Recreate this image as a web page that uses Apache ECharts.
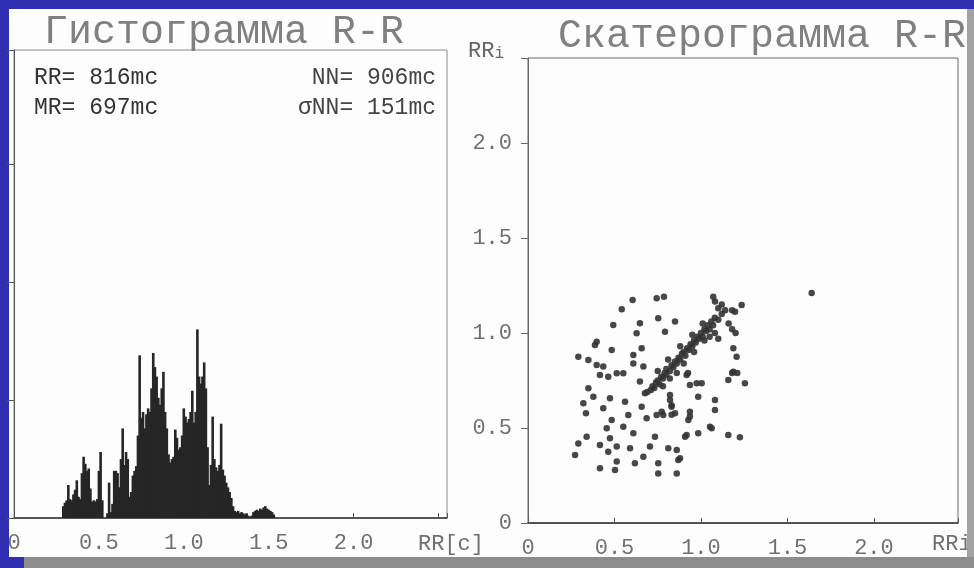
<!DOCTYPE html>
<html>
<head>
<meta charset="utf-8">
<script src="https://cdn.jsdelivr.net/npm/echarts@6/dist/echarts.min.js"></script>
<style>
  html, body { margin: 0; padding: 0; background: #2f2fb2; }
  #paper { position: absolute; left: 9px; top: 9px; width: 958px; height: 548px; background: #fdfdfd; }
  #chart { position: absolute; left: 0; top: 0; width: 974px; height: 568px; }
  #edgeRight { position: absolute; left: 967px; top: 9px; width: 7px; height: 559px; background: #a2a2a2; }
  #edgeBottom { position: absolute; left: 24px; top: 557px; width: 950px; height: 11px; background: #8c8c8c; }
</style>
</head>
<body>
<div id="paper"></div>
<div id="chart"></div>
<div id="edgeRight"></div>
<div id="edgeBottom"></div>
<script>
// гистограмма: бины по 0.01 c начиная с 0.29 c
const histStart = 0.29;
const histStep = 0.01;
const histCounts = [
  1.0, 1.3, 1.5, 2.8, 1.6, 1.5, 2.0, 2.4, 3.2, 1.8,
  1.6, 3.8, 5.2, 4.6, 4.0, 4.2, 2.5, 1.4, 1.5, 1.4,
  1.6, 4.0, 5.6, 1.5, 0.0, 0.0, 0.4, 3.0, 0.5, 1.2,
  4.0, 4.0, 3.8, 2.6, 5.0, 7.6, 4.5, 5.6, 5.0, 1.8,
  2.2, 3.6, 4.0, 4.4, 7.0, 13.8, 8.5, 9.0, 7.6, 8.8,
  9.3, 9.0, 11.0, 14.0, 12.8, 12.0, 10.2, 9.6, 11.0, 12.4,
  9.0, 7.6, 5.4, 4.7, 5.0, 5.2, 7.5, 6.8, 5.8, 6.0,
  7.0, 9.3, 8.6, 8.1, 8.4, 9.0, 10.8, 8.1, 9.0, 16.0,
  12.0, 11.4, 12.0, 13.2, 11.0, 6.0, 2.8, 4.5, 8.6, 5.0,
  4.3, 4.0, 4.5, 8.0, 4.1, 3.6, 3.0, 2.6, 2.2, 1.7,
  1.0, 0.6, 0.5, 0.6, 0.4, 0.5, 0.4, 0.3, 0.4, 0.2,
  0.1, 0.2, 0.5, 0.6, 0.7, 0.6, 0.8, 0.7, 0.9, 1.0,
  0.8, 0.7, 0.6, 0.5, 0.3
];

// скатерограмма: [RRi, RRi+1]
const rrPairs = [
  [0.605, 1.174], [0.542, 1.125], [0.744, 1.183], [0.786, 1.19], [1.071, 1.191],
  [1.081, 1.165], [1.235, 1.147], [1.197, 1.112], [0.493, 1.042], [0.647, 1.051],
  [0.85, 1.06], [0.753, 1.077], [0.628, 0.998], [0.792, 1.007], [0.657, 0.919],
  [0.484, 0.911], [0.387, 0.937], [0.397, 0.954], [0.291, 0.875], [0.349, 0.858],
  [0.397, 0.832], [0.435, 0.823], [0.416, 0.779], [0.464, 0.77], [0.513, 0.788],
  [0.551, 0.788], [0.609, 0.84], [0.647, 0.744], [0.349, 0.709], [0.378, 0.665],
  [0.32, 0.63], [0.335, 0.577], [0.435, 0.604], [0.474, 0.656], [0.561, 0.638],
  [0.484, 0.542], [0.58, 0.568], [0.657, 0.612], [0.686, 0.551], [0.744, 0.568],
  [0.782, 0.568], [0.821, 0.647], [0.83, 0.612], [0.85, 0.577], [0.936, 0.586],
  [0.927, 0.542], [0.984, 0.665], [0.936, 0.726], [1.081, 0.647], [1.081, 0.595],
  [1.052, 0.507], [0.984, 0.472], [0.917, 0.463], [1.158, 0.463], [1.225, 0.451],
  [1.158, 0.753], [1.254, 0.735], [1.187, 0.796], [1.206, 0.875], [1.187, 0.919],
  [0.339, 0.454], [0.291, 0.419], [0.272, 0.358], [0.416, 0.41], [0.474, 0.446],
  [0.455, 0.498], [0.551, 0.507], [0.609, 0.472], [0.513, 0.402], [0.464, 0.375],
  [0.59, 0.393], [0.667, 0.349], [0.705, 0.402], [0.734, 0.454], [0.811, 0.393],
  [0.879, 0.341], [0.513, 0.323], [0.416, 0.288], [0.503, 0.279], [0.618, 0.314],
  [0.753, 0.314], [0.753, 0.261], [0.86, 0.261], [0.869, 0.332], [0.773, 0.586],
  [0.821, 0.674], [0.676, 0.683], [0.917, 0.779], [0.975, 0.735], [0.936, 0.56],
  [0.667, 0.823], [0.609, 0.884], [1.004, 0.735], [0.83, 0.62], [0.83, 0.57],
  [0.908, 0.454], [1.062, 0.498], [0.86, 0.384], [1.18, 1.12], [1.10, 0.97],
  [1.18, 0.79], [1.21, 0.79], [0.925, 0.79], [1.64, 1.21],
  [0.69, 0.69], [0.71, 0.70], [0.72, 0.72], [0.73, 0.71], [0.74, 0.74],
  [0.75, 0.75], [0.76, 0.73], [0.77, 0.77], [0.78, 0.76], [0.79, 0.79],
  [0.80, 0.78], [0.80, 0.81], [0.82, 0.80], [0.83, 0.83], [0.84, 0.82],
  [0.85, 0.85], [0.86, 0.84], [0.87, 0.87], [0.88, 0.86], [0.89, 0.89],
  [0.90, 0.90], [0.91, 0.88], [0.92, 0.92], [0.93, 0.91], [0.94, 0.94],
  [0.95, 0.93], [0.96, 0.96], [0.97, 0.95], [0.98, 0.98], [0.99, 0.97],
  [1.00, 1.00], [1.01, 0.98], [1.02, 1.02], [1.03, 1.01], [1.04, 1.04],
  [1.05, 1.02], [1.06, 1.06], [1.07, 1.04], [1.08, 1.08], [1.10, 1.07],
  [1.12, 1.10], [1.14, 1.12], [1.16, 1.05], [1.18, 1.02], [1.20, 1.00],
  [0.78, 0.72], [0.82, 0.76], [0.86, 0.79], [0.90, 0.84], [0.96, 0.90],
  [1.02, 0.96], [1.05, 0.98], [1.08, 1.00], [0.75, 0.80], [0.81, 0.86],
  [0.88, 0.93], [0.95, 0.99], [1.01, 1.05], [1.10, 1.13], [1.12, 1.15]
];

const histTitle = 'Гистограмма R-R';
const scatTitle = 'Скатерограмма R-R';
const statsLeft = ['RR= 816mc', 'MR= 697mc'];
const statsRight = ['NN= 906mc', 'σNN= 151mc'];
const histXName = 'RR[c]';
const scatXName = 'RRi+1';

const histData = histCounts.map((c, i) => [+(histStart + i * histStep).toFixed(2), c]);

const mono = '"Liberation Mono", "DejaVu Sans Mono", monospace';
// подписи только для 0, 0.5 ... 2.0
const tickFmt = v => {
  const k = Math.round(v * 10);
  if (Math.abs(v * 10 - k) > 1e-6 || k % 5 !== 0 || k > 20) return '';
  return k === 0 ? '0' : v.toFixed(1);
};

const myChart = echarts.init(document.getElementById('chart'));
const option = {
  animation: false,
  grid: [
    { left: 14, top: 50, width: 433, height: 468, show: true, borderColor: '#8a8a8a', borderWidth: 1 },
    { left: 528, top: 58, width: 430, height: 465, show: true, borderColor: '#6a6a6a', borderWidth: 1 }
  ],
  xAxis: [
    {
      gridIndex: 0, type: 'value', min: 0, max: 2.55, interval: 0.5,
      axisLine: { lineStyle: { color: '#333', width: 1.5 } },
      axisTick: { inside: true, length: 5, lineStyle: { color: '#555' } },
      splitLine: { show: false },
      axisLabel: { margin: 14, color: '#707070', fontFamily: mono, fontSize: 22, formatter: tickFmt }
    },
    {
      gridIndex: 1, type: 'value', min: 0, max: 2.486, interval: 0.5,
      axisLine: { lineStyle: { color: '#333', width: 1.5 } },
      axisTick: { inside: true, length: 5, lineStyle: { color: '#555' } },
      splitLine: { show: false },
      axisLabel: { margin: 14, color: '#707070', fontFamily: mono, fontSize: 22, formatter: tickFmt }
    }
  ],
  yAxis: [
    {
      gridIndex: 0, type: 'value', min: 0, max: 39.7, interval: 10,
      axisLine: { show: true, lineStyle: { color: '#555' } },
      axisTick: { show: true, length: 7, lineStyle: { color: '#555' } },
      axisLabel: { show: false },
      splitLine: { show: false }
    },
    {
      gridIndex: 1, type: 'value', min: 0, max: 2.447, interval: 0.5,
      axisLine: { show: true, lineStyle: { color: '#666' } },
      axisTick: { show: true, length: 7, lineStyle: { color: '#666' } },
      axisLabel: { margin: 16, color: '#707070', fontFamily: mono, fontSize: 22, formatter: tickFmt },
      splitLine: { show: false }
    }
  ],
  series: [
    {
      type: 'bar', xAxisIndex: 0, yAxisIndex: 0,
      data: histData, barWidth: 2.6,
      itemStyle: { color: '#262626' }
    },
    {
      type: 'scatter', xAxisIndex: 1, yAxisIndex: 1,
      data: rrPairs, symbolSize: 6.5,
      itemStyle: { color: '#333', opacity: 0.9 }
    }
  ],
  graphic: [
    { type: 'text', left: 44, top: 12, style: { text: histTitle, font: '40px ' + mono, fill: '#808080' } },
    { type: 'text', left: 558, top: 16, style: { text: scatTitle, font: '40px ' + mono, fill: '#808080' } },
    { type: 'text', left: 34, top: 66, style: { text: statsLeft[0], font: '23px ' + mono, fill: '#333' } },
    { type: 'text', left: 34, top: 96, style: { text: statsLeft[1], font: '23px ' + mono, fill: '#333' } },
    { type: 'text', right: 538, top: 66, style: { text: statsRight[0], font: '23px ' + mono, fill: '#444', textAlign: 'right' } },
    { type: 'text', right: 538, top: 96, style: { text: statsRight[1], font: '23px ' + mono, fill: '#444', textAlign: 'right' } },
    { type: 'text', left: 418, top: 533, style: { text: histXName, font: '22px ' + mono, fill: '#707070' } },
    { type: 'text', left: 932, top: 533, style: { text: scatXName, font: '22px ' + mono, fill: '#707070' } },
    {
      type: 'text', left: 468, top: 40,
      style: {
        text: '{a|RR}{b|i}',
        rich: {
          a: { font: '22px ' + mono, fill: '#666' },
          b: { font: '16px ' + mono, fill: '#666', padding: [6, 0, 0, 0] }
        }
      }
    }
  ]
};
myChart.setOption(option);
</script>
</body>
</html>
